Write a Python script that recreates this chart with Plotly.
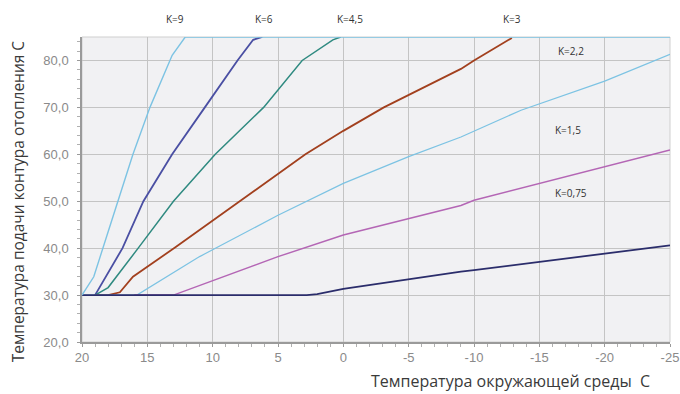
import plotly.graph_objects as go

# ---- data (outdoor temperature, flow temperature) ----
k9_x = [20, 19.1, 18, 17, 16.1, 14.8, 13.3, 13.1, 12.1, -25]
k9_y = [30, 33.9, 43.5, 52, 60, 70, 80, 81.1, 85, 85]

k6_x = [19, 16.9, 15.3, 13.1, 10.6, 8.1, 6.9, 6.2]
k6_y = [30, 40, 50, 60, 70, 80, 84.4, 85]

k45_x = [19, 18, 15.7, 13.0, 9.8, 6.1, 3.15, 0.8, 0.2]
k45_y = [30, 31.6, 40, 50, 60, 70, 80, 84.4, 85]

k3_x = [19, 18, 17.1, 16.1, 12.8, 7.9, 2.9, 0, -3.1, -9, -10, -12.9]
k3_y = [30, 30, 30.6, 33.9, 40.3, 50, 60, 65, 70, 78.2, 80, 84.8]

k22_x = [20, 15.8, 11, 5, 0, -5, -9, -13.6, -20, -25]
k22_y = [30, 30, 38.2, 47, 53.8, 59.5, 63.7, 69.4, 75.6, 81.3]

k15_x = [16, 13, 5, 0, -9, -10, -25]
k15_y = [30, 30, 38.2, 42.8, 49.1, 50.2, 60.9]

k075_x = [20, 2.8, 2, 0, -9, -10, -25]
k075_y = [30, 30, 30.2, 31.3, 35, 35.3, 40.6]

x_ticks = [20, 15, 10, 5, 0, -5, -10, -15, -20, -25]
y_ticks = [20, 30, 40, 50, 60, 70, 80]

series = [
    ("K=6", k6_x, k6_y, "#4a4fa3", 1.8),
    ("K=4,5", k45_x, k45_y, "#2f8a80", 1.5),
    ("K=3", k3_x, k3_y, "#a2401e", 1.8),
    ("K=2,2", k22_x, k22_y, "#7cc3e3", 1.2),
    ("K=1,5", k15_x, k15_y, "#b466b5", 1.5),
    ("K=0,75", k075_x, k075_y, "#2b2d6b", 1.8),
    ("K=9", k9_x, k9_y, "#7cc3e3", 1.4),
]

fig = go.Figure()
for name, xs, ys, col, w in series:
    fig.add_trace(go.Scatter(x=xs, y=ys, mode="lines", name=name,
                             line=dict(color=col, width=w), showlegend=False,
                             cliponaxis=False))

lab_font = dict(family="Open Sans, Liberation Sans, sans-serif", size=10, color="#333333")
# labels above plot
for txt, xv in [("K=9", 12.9), ("K=6", 6.1), ("K=4,5", -0.5), ("K=3", -12.9)]:
    fig.add_annotation(x=xv, y=1.0, yref="paper", yshift=18, yanchor="middle",
                       text=txt, showarrow=False, font=lab_font)
# labels inside plot
for txt, xv, yv in [("K=2,2", -17.4, 82), ("K=1,5", -17.2, 65.2), ("K=0,75", -17.4, 51.8)]:
    fig.add_annotation(x=xv, y=yv, text=txt, showarrow=False, font=lab_font)

title_col = "#3a3a3a"
fig.add_annotation(text="Температура подачи контура отопления С", textangle=-90,
                   xref="paper", yref="paper", x=-0.109, y=0.461,
                   showarrow=False, xanchor="center", yanchor="middle",
                   font=dict(family="Open Sans, sans-serif", size=15.5, color=title_col))
fig.add_annotation(text="Температура окружающей среды\u00a0 С",
                   xref="paper", yref="paper", x=0.728, y=-0.127,
                   showarrow=False, xanchor="center", yanchor="middle",
                   font=dict(family="Open Sans, sans-serif", size=16, color=title_col))

tick_font = dict(family="Liberation Sans, Arial, sans-serif", size=13, color="#8a8a8a")
fig.update_xaxes(range=[20, -25], tickvals=x_ticks, ticktext=[str(v) for v in x_ticks],
                 automargin=False,
                 showgrid=True, gridcolor="#c4c4c4", gridwidth=1,
                 showline=True, linecolor="#9a9a9a", linewidth=1.5, mirror=False,
                 ticks="outside", ticklen=3, tickcolor="#9a9a9a", tickfont=tick_font,
                 minor=dict(dtick=1, ticks="outside", ticklen=3, tickcolor="#b0b0b0", showgrid=False),
                 zeroline=False)
fig.update_yaxes(range=[20, 85], tickvals=y_ticks, tickformat=".1f",
                 automargin=False,
                 showgrid=True, gridcolor="#c4c4c4", gridwidth=1,
                 showline=True, linecolor="#9a9a9a", linewidth=1.5,
                 ticks="outside", ticklen=3, tickcolor="#9a9a9a", tickfont=tick_font,
                 ticklabelstandoff=6,
                 minor=dict(dtick=2, ticks="outside", ticklen=3, tickcolor="#b0b0b0", showgrid=False),
                 zeroline=False)

fig.add_shape(type="rect", xref="paper", yref="paper", x0=0, x1=1, y0=0, y1=1,
              line=dict(color="#cfcfcf", width=1), layer="below")

fig.update_layout(width=680, height=394, margin=dict(l=82, r=10, t=37, b=52),
                  plot_bgcolor="#f1f1f3", paper_bgcolor="white",
                  separators=", ")
# remove the page's default body margin so the 680x394 figure fills the window
fig.write_html("out.html", config={"displayModeBar": False},
               post_script="document.body.style.margin='0';document.body.style.overflow='hidden';")
